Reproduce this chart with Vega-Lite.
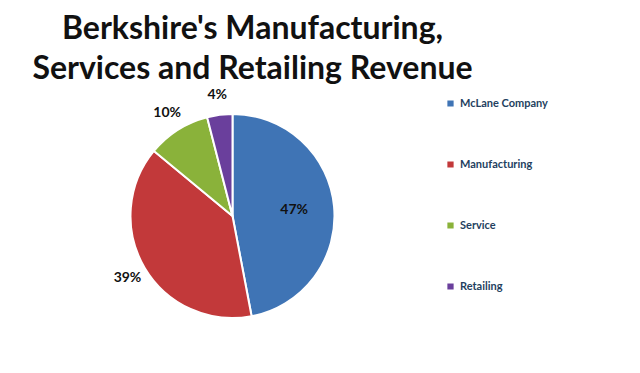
{
  "$schema": "https://vega.github.io/schema/vega-lite/v6.json",
  "width": 640,
  "height": 373,
  "autosize": {"type": "fit", "contains": "padding"},
  "padding": {"left": 5, "top": 18, "right": 180, "bottom": 34},
  "background": "white",
  "title": {
    "text": ["Berkshire's Manufacturing,", "Services and Retailing Revenue"],
    "font": "Lato",
    "fontSize": 32,
    "fontWeight": "bold",
    "color": "#111111",
    "lineHeight": 40,
    "anchor": "middle",
    "dx": 20,
    "offset": 2
  },
  "data": {
    "values": [
      {"segment": "McLane Company", "share": 47, "order": 1},
      {"segment": "Manufacturing", "share": 39, "order": 2},
      {"segment": "Service", "share": 10, "order": 3},
      {"segment": "Retailing", "share": 4, "order": 4}
    ]
  },
  "transform": [
    {"stack": "share", "groupby": [], "sort": [{"field": "order", "order": "ascending"}], "as": ["start", "end"]},
    {"calculate": "(datum.start + datum.end) / 2", "as": "mid"},
    {"calculate": "datum.share + '%'", "as": "label"}
  ],
  "layer": [
    {
      "mark": {"type": "arc", "outerRadius": 102, "stroke": "white", "strokeWidth": 2},
      "encoding": {
        "theta": {"field": "start", "type": "quantitative", "scale": {"domain": [0, 100]}},
        "theta2": {"field": "end"},
        "color": {
          "field": "segment",
          "type": "nominal",
          "sort": ["McLane Company", "Manufacturing", "Service", "Retailing"],
          "scale": {
            "domain": ["McLane Company", "Manufacturing", "Service", "Retailing"],
            "range": ["#3F74B5", "#C2393A", "#8AB23A", "#6A3F9C"]
          },
          "legend": {
            "title": null,
            "orient": "none",
            "legendX": 440,
            "legendY": 5,
            "symbolType": "square",
            "symbolSize": 60,
            "rowPadding": 46,
            "labelFont": "Lato",
            "labelFontSize": 11,
            "labelFontWeight": "bold",
            "labelColor": "#243F60",
            "labelOffset": 4
          }
        }
      }
    },
    {
      "transform": [{"filter": "datum.share > 40"}],
      "mark": {"type": "text", "radius": 62, "font": "Lato", "fontSize": 14, "fontWeight": "bold", "color": "#111111"},
      "encoding": {
        "theta": {"field": "mid", "type": "quantitative", "scale": {"domain": [0, 100]}},
        "text": {"field": "label", "type": "nominal"}
      }
    },
    {
      "transform": [{"filter": "datum.share <= 40"}],
      "mark": {"type": "text", "radius": 122, "font": "Lato", "fontSize": 14, "fontWeight": "bold", "color": "#111111"},
      "encoding": {
        "theta": {"field": "mid", "type": "quantitative", "scale": {"domain": [0, 100]}},
        "text": {"field": "label", "type": "nominal"}
      }
    }
  ]
}
